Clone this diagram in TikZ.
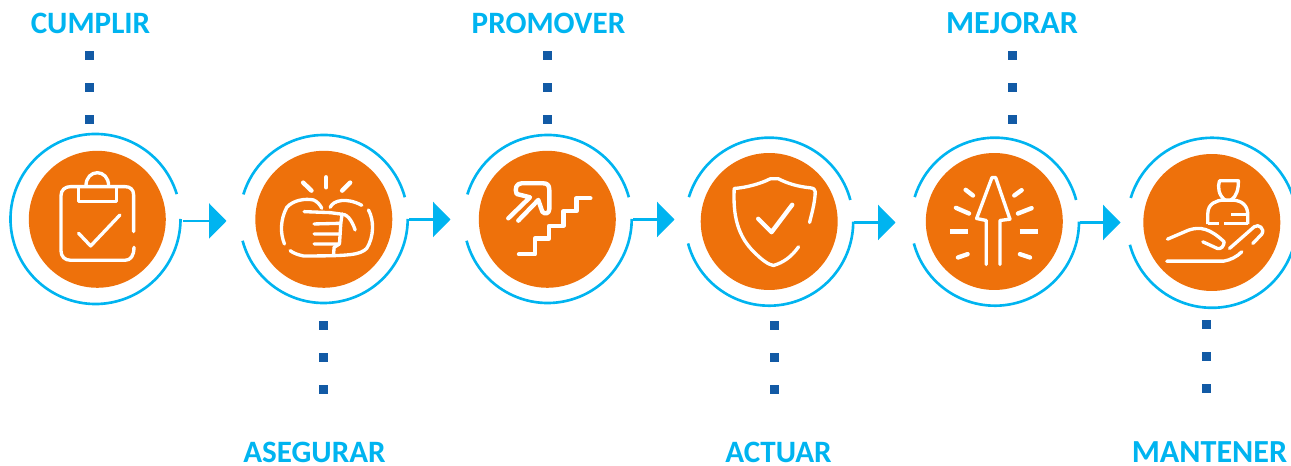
\documentclass[tikz,border=0pt]{standalone}
\usepackage{fontspec}
\setmainfont{Carlito}
\usetikzlibrary{arrows.meta}
\definecolor{ringblue}{RGB}{0,180,240}
\definecolor{dotblue}{RGB}{18,90,165}
\definecolor{discorange}{RGB}{238,113,11}
\tikzset{
  disc/.style={circle,fill=discorange,minimum size=2.74cm,inner sep=0pt,outer sep=0pt},
  ringnode/.style={circle,minimum size=3.4cm,inner sep=0pt,outer sep=0pt},
  ringline/.style={ringblue,line width=1.5pt},
  flow/.style={ringblue,line width=1.4pt,-{Triangle[length=0.35cm,width=0.7cm]}},
  dotnode/.style={rectangle,fill=dotblue,minimum size=0.18cm,inner sep=0pt},
  lbl/.style={text=ringblue,font=\fontsize{17.7}{20}\selectfont\bfseries,inner sep=0pt,anchor=base},
  lblwide/.style={lbl,font=\fontsize{18.3}{20}\selectfont\bfseries},
  icon/.style={white,line width=1.9pt,line cap=round,line join=round},
  iconthick/.style={icon,line width=2.5pt},
  iconscale/.style={x=0.00667cm,y=-0.00667cm}
}
\begin{document}
\begin{tikzpicture}[x=0.02cm,y=0.02cm]
	\useasboundingbox (0,0) rectangle (1291,466);

	% labels
	\node[lbl] (cumplir) at (90.5,432) {CUMPLIR};
	\node[lbl] (asegurar) at (314.5,3) {ASEGURAR};
	\node[lbl] (promover) at (548.5,432) {PROMOVER};
	\node[lbl] (actuar) at (778.5,3) {ACTUAR};
	\node[lblwide] (mejorar) at (1012,432) {MEJORAR};
	\node[lblwide] (mantener) at (1209.5,3) {MANTENER};

	% dots
	\node[dotnode] (d11) at (89.7,410) {};
	\node[dotnode] (d12) at (89.7,378) {};
	\node[dotnode] (d13) at (89.7,346) {};
	\node[dotnode] (d21) at (323.7,140.3) {};
	\node[dotnode] (d22) at (323.7,108.3) {};
	\node[dotnode] (d23) at (323.7,76.3) {};
	\node[dotnode] (d31) at (547,410) {};
	\node[dotnode] (d32) at (547,378) {};
	\node[dotnode] (d33) at (547,346) {};
	\node[dotnode] (d41) at (774,140.3) {};
	\node[dotnode] (d42) at (774,108.3) {};
	\node[dotnode] (d43) at (774,76.3) {};
	\node[dotnode] (d51) at (1012,410) {};
	\node[dotnode] (d52) at (1012,378) {};
	\node[dotnode] (d53) at (1012,346) {};
	\node[dotnode] (d61) at (1206.3,141.7) {};
	\node[dotnode] (d62) at (1206.3,109.7) {};
	\node[dotnode] (d63) at (1206.3,77.7) {};

	% discs and rings
	\node[disc] (c1) at (97.3,246.7) {};
	\node[ringnode] (r1) at (95.5,247) {};
	\draw[ringline] (r1.center) ++(17:85) arc (17:360:85);

	\node[disc] (c2) at (323.8,246.7) {};
	\node[ringnode] (r2) at (323.7,247) {};
	\draw[ringline] (r2.center) ++(15:84) arc (15:163:84);
	\draw[ringline] (r2.center) ++(195:84) arc (195:360:84);

	\node[disc] (c3) at (547.3,246.7) {};
	\node[ringnode] (r3) at (547.7,247) {};
	\draw[ringline] (r3.center) ++(15:84) arc (15:163:84);
	\draw[ringline] (r3.center) ++(195:84) arc (195:360:84);

	\node[disc] (c4) at (769.2,244.5) {};
	\node[ringnode] (r4) at (769.2,244.3) {};
	\draw[ringline] (r4.center) ++(15:84) arc (15:163:84);
	\draw[ringline] (r4.center) ++(195:84) arc (195:360:84);

	\node[disc] (c5) at (994.3,244.5) {};
	\node[ringnode] (r5) at (995,244.3) {};
	\draw[ringline] (r5.center) ++(15:84) arc (15:163:84);
	\draw[ringline] (r5.center) ++(195:84) arc (195:360:84);

	\node[disc] (c6) at (1211.8,243.5) {};
	\node[ringnode] (r6) at (1212,243.2) {};
	\draw[ringline] (r6.center) ++(15:85) arc (15:163:85);
	\draw[ringline] (r6.center) ++(195:85) arc (195:360:85);

	% arrows
	\coordinate (s1) at (183,245);
	\coordinate (t1) at (226.5,245);
	\draw[flow] (s1) -- (t1);
	\coordinate (t2) at (450.5,246.5);
	\draw[flow] (r2.east |- t2) -- (t2);
	\coordinate (t3) at (674.5,246.5);
	\draw[flow] (r3.east |- t3) -- (t3);
	\coordinate (t4) at (895.5,243.5);
	\draw[flow] (r4.east |- t4) -- (t4);
	\coordinate (t5) at (1120.5,243.5);
	\draw[flow] (r5.east |- t5) -- (t5);

	% clipboard
	\begin{scope}[shift={(c1)},iconscale]
		\draw[icon] (-292+401,-298+335) -- (-292+401,-298+225) .. controls (-292+401,-298+208) and (-292+390,-298+200) .. (-292+375,-298+200)
		  -- (-292+212,-298+200) .. controls (-292+195,-298+200) and (-292+183,-298+210) .. (-292+183,-298+228)
		  -- (-292+183,-298+392) .. controls (-292+183,-298+410) and (-292+195,-298+421) .. (-292+212,-298+421)
		  -- (-292+375,-298+421) .. controls (-292+392,-298+421) and (-292+402,-298+408) .. (-292+402,-298+382);
		\draw[icon,line cap=butt] (-292+236,-298+200) -- (-292+236,-298+244) -- (-292+350,-298+244) -- (-292+350,-298+200);
		\draw[icon,line cap=butt] (-292+258,-298+198) .. controls (-292+258,-298+145) and (-292+326,-298+145) .. (-292+326,-298+198);
		\draw[icon] (-292+236,-298+340) -- (-292+272,-298+378) -- (-292+360,-298+285);
	\end{scope}

	% fists
	\begin{scope}[shift={(c2)},iconscale]
		\draw[iconthick] (-281+288,-298+172) -- (-281+288,-298+202);
		\draw[iconthick] (-281+219,-298+188) -- (-281+244,-298+212);
		\draw[iconthick] (-281+360,-298+188) -- (-281+336,-298+212);
		\draw[icon] (-281+163,-298+372) .. controls (-281+150,-298+340) and (-281+150,-298+300) .. (-281+170,-298+262)
		  .. controls (-281+190,-298+240) and (-281+225,-298+235) .. (-281+250,-298+240) .. controls (-281+262,-298+245) and (-281+270,-298+255) .. (-281+275,-298+265);
		\draw[icon] (-281+222,-298+275) -- (-281+300,-298+278);
		\draw[icon] (-281+300,-298+262) .. controls (-281+310,-298+240) and (-281+350,-298+232) .. (-281+395,-298+256);
		\draw[icon] (-281+300,-298+278) -- (-281+330,-298+282) .. controls (-281+350,-298+280) and (-281+365,-298+300) .. (-281+375,-298+330);
		\draw[icon] (-281+336,-298+282) -- (-281+332,-298+310) -- (-281+252,-298+312);
		\draw[icon] (-281+332,-298+310) -- (-281+330,-298+342) -- (-281+252,-298+342);
		\draw[icon] (-281+330,-298+342) -- (-281+328,-298+372) -- (-281+252,-298+372);
		\draw[icon] (-281+328,-298+372) -- (-281+312,-298+382) -- (-281+310,-298+405);
		\draw[icon] (-281+415,-298+270) .. controls (-281+432,-298+300) and (-281+432,-298+350) .. (-281+410,-298+385)
		  .. controls (-281+390,-298+405) and (-281+360,-298+408) .. (-281+220,-298+408) .. controls (-281+205,-298+405) and (-281+190,-298+400) .. (-281+180,-298+392);
	\end{scope}

	% stairs
	\begin{scope}[shift={(c3)},iconscale]
		\draw[iconthick] (-277+192,-298+403) -- (-277+240,-298+403) -- (-277+240,-298+356) -- (-277+282,-298+356) -- (-277+282,-298+318) -- (-277+325,-298+318) -- (-277+325,-298+274) -- (-277+364,-298+274) -- (-277+364,-298+235) -- (-277+406,-298+235);
		\draw[iconthick] (-277+160,-298+295) -- (-277+225,-298+232) -- (-277+185,-298+222) .. controls (-277+178,-298+205) and (-277+185,-298+190) .. (-277+200,-298+190)
		  -- (-277+265,-298+190) .. controls (-277+278,-298+190) and (-277+283,-298+197) .. (-277+283,-298+210)
		  -- (-277+283,-298+268) .. controls (-277+283,-298+280) and (-277+270,-298+285) .. (-277+262,-298+275) -- (-277+250,-298+240) -- (-277+190,-298+302);
	\end{scope}

	% shield
	\begin{scope}[shift={(c4)},iconscale]
		\draw[icon] (-267+388,-305+308) .. controls (-267+398,-305+270) and (-267+405,-305+240) .. (-267+405,-305+215) .. controls (-267+404,-305+208) and (-267+400,-305+205) .. (-267+390,-305+204)
		  .. controls (-267+350,-305+200) and (-267+320,-305+190) .. (-267+295,-305+177) -- (-267+270,-305+177) .. controls (-267+240,-305+192) and (-267+200,-305+203) .. (-267+162,-305+206)
		  .. controls (-267+160,-305+260) and (-267+160,-305+340) .. (-267+225,-305+400) .. controls (-267+245,-305+420) and (-267+265,-305+435) .. (-267+280,-305+437)
		  .. controls (-267+310,-305+428) and (-267+335,-305+410) .. (-267+355,-305+381);
		\draw[iconthick] (-267+234,-305+297) -- (-267+274,-305+337) -- (-267+336,-305+255);
	\end{scope}

	% rising arrow
	\begin{scope}[shift={(c5)},iconscale]
		\draw[icon] (-283+259,-305+434) -- (-283+259,-305+302) -- (-283+230,-305+296) -- (-283+276,-305+173) -- (-283+287,-305+173) -- (-283+330,-305+298) -- (-283+300,-305+302) -- (-283+300,-305+434);
		\draw[iconthick,line width=2.9pt,line cap=butt] (-283+151,-305+336) -- (-283+205,-305+336);
		\draw[iconthick,line width=2.9pt,line cap=butt] (-283+359,-305+336) -- (-283+413,-305+336);
		\draw[iconthick] (-283+197,-305+210) -- (-283+219,-305+227);
		\draw[iconthick] (-283+365,-305+211) -- (-283+343,-305+227);
		\draw[iconthick] (-283+168,-305+264) -- (-283+207,-305+281);
		\draw[iconthick] (-283+395,-305+265) -- (-283+354,-305+281);
		\draw[iconthick] (-283+174,-305+413) -- (-283+203,-305+403);
		\draw[iconthick] (-283+390,-305+413) -- (-283+360,-305+403);
	\end{scope}

	% hand and person
	\begin{scope}[shift={(c6)},iconscale]
		\draw[icon] (-335+202,-307+357) -- (-335+265,-307+330) .. controls (-335+300,-307+318) and (-335+330,-307+325) .. (-335+372,-307+365) .. controls (-335+372,-307+378) and (-335+362,-307+388) .. (-335+352,-307+385) -- (-335+308,-307+365);
		\draw[icon] (-335+200,-307+423) -- (-335+370,-307+423) .. controls (-335+390,-307+420) and (-335+410,-307+410) .. (-335+425,-307+395);
		\draw[icon] (-335+388,-307+385) -- (-335+462,-307+320) .. controls (-335+475,-307+310) and (-335+495,-307+325) .. (-335+485,-307+342) -- (-335+458,-307+370);
		\draw[icon,line cap=butt] (-335+323,-307+312) -- (-335+323,-307+280) .. controls (-335+323,-307+250) and (-335+350,-307+240) .. (-335+370,-307+240) -- (-335+400,-307+240) .. controls (-335+425,-307+242) and (-335+443,-307+255) .. (-335+443,-307+285) -- (-335+443,-307+312);
		\draw[icon,line cap=butt] (-335+323,-307+310) -- (-335+358,-307+310);
		\draw[icon,line cap=butt] (-335+372,-307+310) -- (-335+443,-307+310);
		\draw[icon,line cap=butt] (-335+392,-307+284) -- (-335+443,-307+284);
		\draw[icon,line cap=butt] (-335+375,-307+240) .. controls (-335+355,-307+225) and (-335+352,-307+200) .. (-335+358,-307+182) -- (-335+415,-307+182) .. controls (-335+415,-307+205) and (-335+410,-307+230) .. (-335+392,-307+240);
	\end{scope}
\end{tikzpicture}
\end{document}
